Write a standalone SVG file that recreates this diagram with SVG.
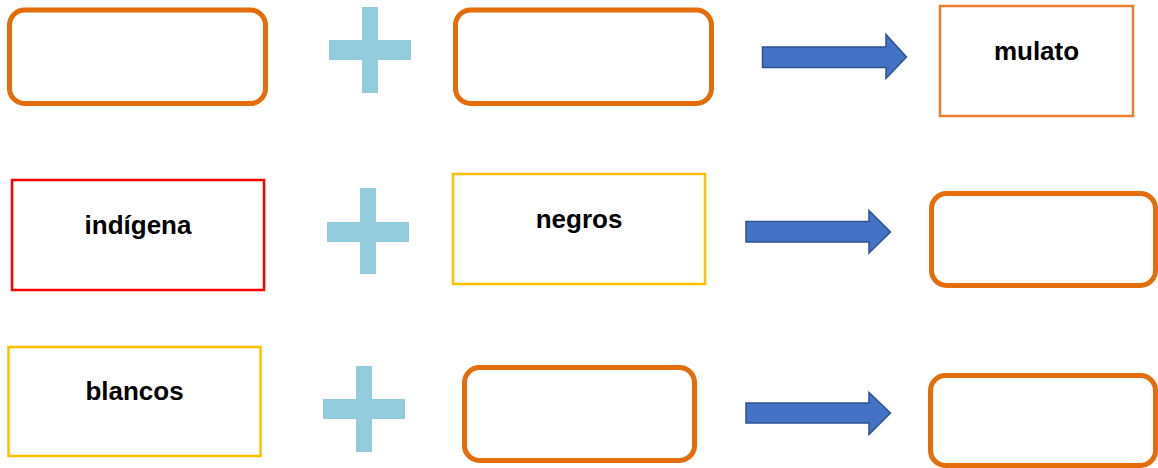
<svg xmlns="http://www.w3.org/2000/svg" width="1158" height="468" viewBox="0 0 1158 468">
  <style>
    .rbox { fill: #FFFFFF; stroke: #E46C0A; stroke-width: 5; }
    .box { fill: #FFFFFF; stroke-width: 2.5; }
    .plus { fill: #93CDDD; }
    .arrow { fill: #4472C4; stroke: #2F528F; stroke-width: 1.5; stroke-linejoin: miter; }
    .lbl { font-family: "Liberation Sans", Arial, sans-serif; font-weight: bold; font-size: 26px; fill: #000000; text-anchor: middle; }
  </style>
  <rect width="1158" height="468" fill="#FFFFFF"/>

  <!-- Row 1 -->
  <g id="r1-box1">
    <rect class="rbox" x="9.5" y="10" width="256" height="93.5" rx="15" ry="15"/>
  </g>
  <g id="r1-plus">
    <rect class="plus" x="362" y="7" width="16" height="86"/>
    <rect class="plus" x="329" y="40" width="82" height="20"/>
  </g>
  <g id="r1-box2">
    <rect class="rbox" x="455.5" y="10" width="256" height="93.5" rx="15" ry="15"/>
  </g>
  <g id="r1-result">
    <rect class="box" x="940" y="6" width="193" height="110" stroke="#ED7D31"/>
    <text class="lbl" x="1036.5" y="60">mulato</text>
  </g>

  <!-- Row 2 -->
  <g id="r2-indigena">
    <rect class="box" x="12" y="180" width="252" height="110" stroke="#FF0000"/>
    <text class="lbl" x="138" y="234">indígena</text>
  </g>
  <g id="r2-plus">
    <rect class="plus" x="360" y="188" width="16" height="86"/>
    <rect class="plus" x="327" y="222" width="82" height="20"/>
  </g>
  <g id="r2-negros">
    <rect class="box" x="453" y="174" width="252" height="110" stroke="#FFC000"/>
    <text class="lbl" x="579" y="228">negros</text>
  </g>
  <g id="r2-result">
    <rect class="rbox" x="931.5" y="193.5" width="224" height="92" rx="15" ry="15"/>
  </g>

  <!-- Row 3 -->
  <g id="r3-blancos">
    <rect class="box" x="8.5" y="347" width="252" height="109" stroke="#FFC000"/>
    <text class="lbl" x="134.5" y="400">blancos</text>
  </g>
  <g id="r3-plus">
    <rect class="plus" x="356" y="366" width="16" height="86"/>
    <rect class="plus" x="323" y="399" width="82" height="20"/>
  </g>
  <g id="r3-box2">
    <rect class="rbox" x="464.5" y="367.5" width="230" height="93" rx="15" ry="15"/>
  </g>
  <g id="r3-result">
    <rect class="rbox" x="930.5" y="375.5" width="225" height="90" rx="15" ry="15"/>
  </g>

  <!-- Connectors (block arrows) -->
  <g id="connectors">
    <path class="arrow" d="M762.5,47 L886,47 L886,34.5 L906.5,57 L886,78.5 L886,67.5 L762.5,67.5 Z"/>
    <path class="arrow" d="M746,221.5 L869,221.5 L869,210.5 L890.5,232 L869,253 L869,242 L746,242 Z"/>
    <path class="arrow" d="M746,403 L869,403 L869,392.5 L890.5,413 L869,434.5 L869,423 L746,423 Z"/>
  </g>
</svg>
